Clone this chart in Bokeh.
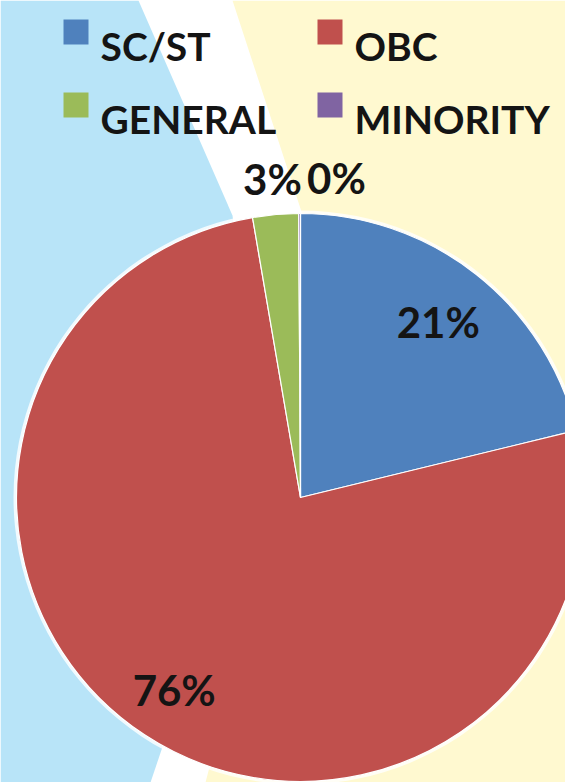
import math
from bokeh.plotting import figure
from bokeh.models import Range1d, ColumnDataSource
from bokeh.core.properties import value
from bokeh.embed import file_html
from bokeh.resources import INLINE

# ---- data ----
categories = ["SC/ST", "OBC", "GENERAL", "MINORITY"]
shares = [21.2, 76.1, 2.6, 0.1]
labels = ["21%", "76%", "3%", "0%"]
colors = ["#4F81BD", "#C0504D", "#9BBB59", "#8064A2"]

W, H = 565, 782
p = figure(width=W, height=H, x_range=Range1d(0, W), y_range=Range1d(0, H),
           output_backend="svg", toolbar_location=None, min_border=0)
p.axis.visible = False
p.grid.visible = False
p.outline_line_color = None
p.background_fill_color = "#FFFFFF"
p.border_fill_color = "#FFFFFF"

def Y(py):
    return H - py

# background shapes (slide decoration)
p.patch([0, 138, 232, 262, 150, 0], [Y(0), Y(0), Y(215), Y(450), Y(782), Y(782)],
        fill_color="#B8E4F8", line_color=None)
p.patch([232, 565, 565, 205, 330], [Y(0), Y(0), Y(782), Y(782), Y(300)],
        fill_color="#FFF9D0", line_color=None)

# pie
cx, cy, r = 300, Y(497), 284
p.circle([cx], [cy], radius=r + 3, fill_color="white", fill_alpha=0.8, line_color=None)

total = sum(shares)
starts, ends, mids = [], [], []
acc = 0.0
for s in shares:
    a0 = math.pi / 2 - acc / total * 2 * math.pi
    acc += s
    a1 = math.pi / 2 - acc / total * 2 * math.pi
    starts.append(a0)
    ends.append(a1)
    mids.append((a0 + a1) / 2)

src = ColumnDataSource(dict(start=starts, end=ends, color=colors))
p.wedge(x=cx, y=cy, radius=r, start_angle="end", end_angle="start",
        fill_color="color", line_color="white", line_width=1.2, source=src)

# data labels
label_r = [0.785, 0.81, 1.125, 1.125]
label_dx = [0, 0, 0, 37]
lx = [cx + label_r[i] * r * math.cos(mids[i]) + label_dx[i] for i in range(4)]
ly = [cy + label_r[i] * r * math.sin(mids[i]) for i in range(4)]
p.text(lx, ly, text=labels, text_font=value("Lato"), text_font_style="bold",
       text_font_size="42px", text_color="#141414", text_align="center",
       text_baseline="middle")

# legend (2 x 2 grid)
col_x = [63, 317]
row_y = [19, 92]
sq = 25
for i, c in enumerate(categories):
    gx = col_x[i % 2]
    gy = row_y[i // 2]
    p.rect([gx + sq / 2], [Y(gy + sq / 2)], width=sq, height=sq,
           fill_color=colors[i], line_color=None)
    p.text([gx + 37], [Y(gy + 26)], text=[c], text_font=value("Lato"),
           text_font_style="bold", text_font_size="39px", text_color="#141414",
           text_align="left", text_baseline="alphabetic")

open("out.html", "w").write(file_html(p, INLINE))
